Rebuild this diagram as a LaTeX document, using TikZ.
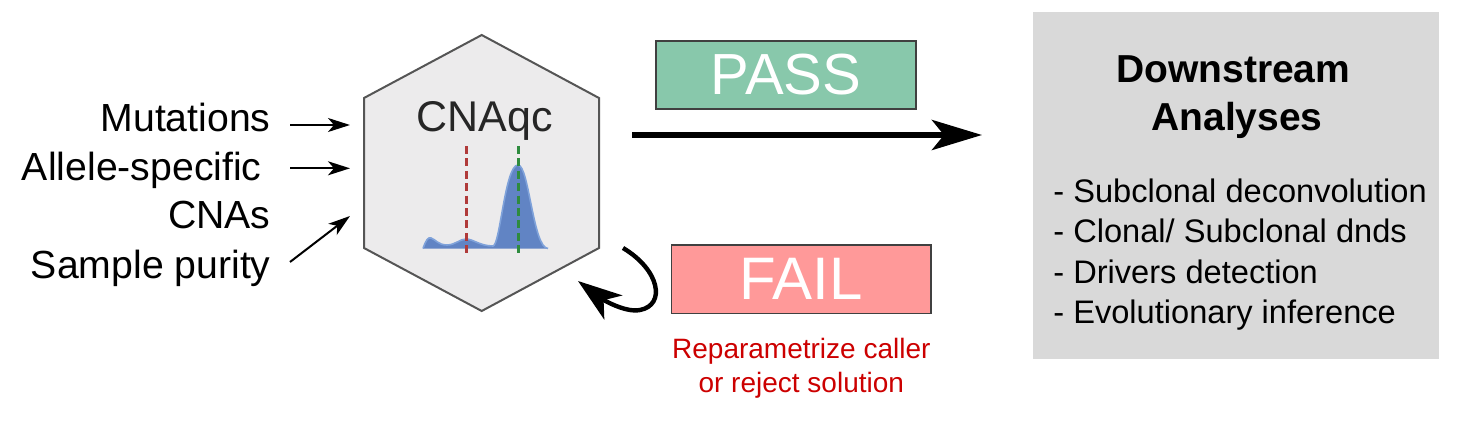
\documentclass[tikz,border=0pt]{standalone}
\usepackage{fontspec}
\setmainfont{Liberation Sans}
\usetikzlibrary{arrows.meta}
\definecolor{hexfill}{HTML}{ECEBEC}
\definecolor{hexdraw}{HTML}{555555}
\definecolor{passfill}{HTML}{88C8AB}
\definecolor{failfill}{HTML}{FF9999}
\definecolor{boxgray}{HTML}{D9D9D9}
\definecolor{redtxt}{HTML}{CC0000}
\definecolor{densfill}{HTML}{6184C4}
\definecolor{densdraw}{HTML}{7FA2DA}
\definecolor{redline}{HTML}{B03A3A}
\definecolor{greenline}{HTML}{2E8B3E}
\tikzset{
  inlabel/.style={font=\fontsize{19.6}{24}\selectfont, inner sep=0pt, anchor=base east},
  inarrow/.style={line width=1pt, -{Stealth[length=11pt,width=7pt,inset=3pt]}},
  statusbox/.style={draw=black!75, line width=0.6pt, text=white, inner sep=0pt,
    minimum width=130pt, font=\fontsize{29}{30}\selectfont},
  listitem/.style={font=\fontsize{16.3}{20}\selectfont, inner sep=0pt, anchor=base west},
  vline/.style={line width=1.7pt, dash pattern=on 4pt off 2.2pt},
}
\begin{document}
\begin{tikzpicture}[x=0.5pt,y=-0.5pt]
\path[use as bounding box] (0,0) rectangle (1473,439);

% hexagon
\coordinate (h1) at (481.7,35);
\coordinate (h2) at (599,98);
\coordinate (h3) at (599,248);
\coordinate (h4) at (481.7,311);
\coordinate (h5) at (364,248);
\coordinate (h6) at (364,98);
\draw[fill=hexfill, draw=hexdraw, line width=1pt, line join=miter]
  (h1) -- (h2) -- (h3) -- (h4) -- (h5) -- (h6) -- cycle;
\node[font=\fontsize{21.5}{24}\selectfont, text=black!85, inner sep=0pt, anchor=base] (cnaqc) at (485,131.7) {CNAqc};

% density
\fill[densfill] (423,248.5) .. controls (426,240) and (428,237) .. (431,238)
  .. controls (435,239) and (438,245) .. (447,245)
  .. controls (455,245) and (460,239) .. (466,239)
  .. controls (473,239) and (480,246) .. (493,246)
  .. controls (500,246) and (505,165) .. (518,165)
  .. controls (529,165) and (533,248) .. (548,248.5) -- cycle;
\draw[densdraw, line width=0.8pt] (423,248.5) .. controls (426,240) and (428,237) .. (431,238)
  .. controls (435,239) and (438,245) .. (447,245)
  .. controls (455,245) and (460,239) .. (466,239)
  .. controls (473,239) and (480,246) .. (493,246)
  .. controls (500,246) and (505,165) .. (518,165)
  .. controls (529,165) and (533,248) .. (548,248.5);
\coordinate (rt) at (466.7,146);
\coordinate (rb) at (466.7,254);
\coordinate (gt) at (518.3,146);
\coordinate (gb) at (518.3,254);
\draw[vline, redline] (rt) -- (rb);
\draw[vline, greenline] (gt) -- (gb);

% inputs
\node[inlabel] (mut) at (271,131.7) {Mutations};
\node[inlabel] (ase) at (262,180) {Allele-specific};
\node[inlabel] (cna) at (271,228.3) {CNAs};
\node[inlabel] (pur) at (271,278.3) {Sample purity};
\coordinate (a1s) at (290,125);
\coordinate (a1e) at (350,125);
\coordinate (a2s) at (290,168.3);
\coordinate (a2e) at (350,168.3);
\coordinate (a3s) at (290,262);
\coordinate (a3e) at (350,216);
\draw[inarrow] (a1s) -- (a1e);
\draw[inarrow] (a2s) -- (a2e);
\draw[inarrow] (a3s) -- (a3e);

% pass
\node[statusbox, fill=passfill, minimum height=34pt] (pass) at (786,75) {PASS};
\coordinate (ps) at (632,135);
\coordinate (pe) at (982,135);
\draw[line width=3pt, -{Stealth[length=25pt,width=15pt,inset=6pt]}] (ps) -- (pe);

% fail
\node[statusbox, fill=failfill, minimum height=34.2pt, minimum width=129.6pt, font=\fontsize{30}{30}\selectfont] (fail) at (801.3,279.2) {FAIL};
\coordinate (fs) at (623,248);
\coordinate (fe) at (578,281);
\draw[line width=2.2pt, -{Stealth[length=22pt,width=15pt,inset=6pt]}]
  (fs) .. controls (660,270) and (666,305) .. (640,310)
  .. controls (625,313) and (602,299) .. (fe);
\node[font=\fontsize{14}{17}\selectfont, text=redtxt, inner sep=0pt, anchor=base] (rep1) at (801.3,358.3) {Reparametrize caller};
\node[font=\fontsize{14}{17}\selectfont, text=redtxt, inner sep=0pt, anchor=base] (rep2) at (801.3,392.3) {or reject solution};

% downstream box
\node[fill=boxgray, minimum width=203.2pt, minimum height=173.4pt, inner sep=0pt] (ds) at (1235.9,185.7) {};
\node[font=\fontsize{19.5}{24}\selectfont\bfseries, inner sep=0pt, anchor=base] (t1) at (1233.3,82) {Downstream};
\node[font=\fontsize{19.5}{24}\selectfont\bfseries, inner sep=0pt, anchor=base] (t2) at (1237,130) {Analyses};
\node[listitem] (l1) at (1053,202.7) {- Subclonal deconvolution};
\node[listitem] (l2) at (1053,242.7) {- Clonal/ Subclonal dnds};
\node[listitem] (l3) at (1053,283.3) {- Drivers detection};
\node[listitem] (l4) at (1053,323.3) {- Evolutionary inference};
\end{tikzpicture}
\end{document}
